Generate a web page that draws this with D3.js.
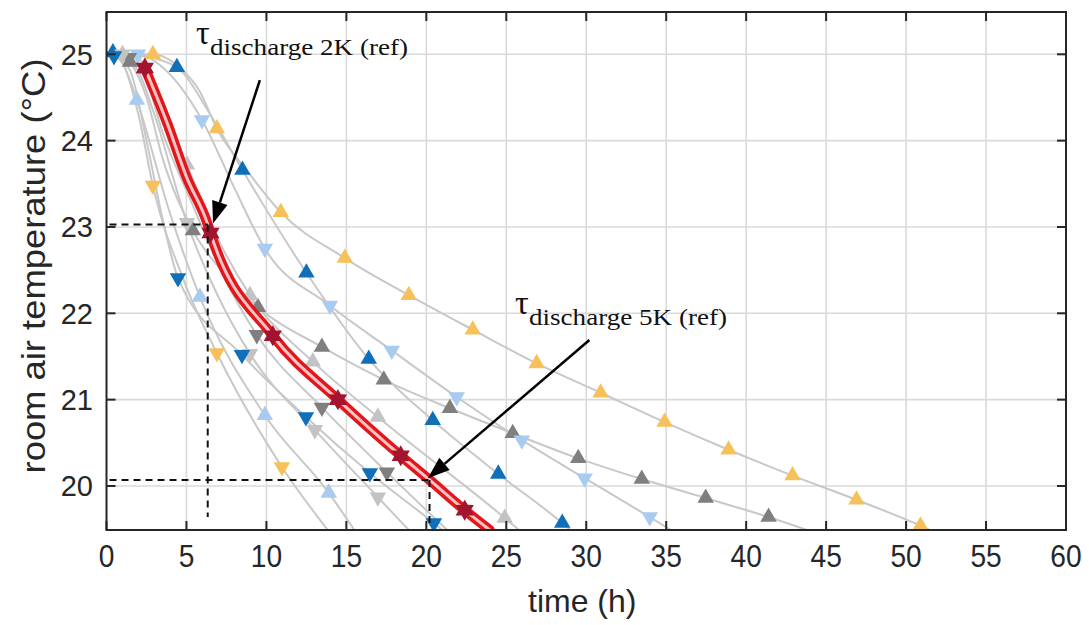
<!DOCTYPE html>
<html><head><meta charset="utf-8">
<script src="https://cdn.jsdelivr.net/npm/d3@7"></script>
<style>body{margin:0;background:#fff}svg{display:block}</style>
</head><body><svg id="c" width="1089" height="625"></svg>
<script>
// ---------- data (hours, °C) ----------
const xTicks = [0,5,10,15,20,25,30,35,40,45,50,55,60];
const yTicks = [20,21,22,23,24,25];

const yellowUpH = [0.3,2.9,4.5,5.8,6.9,9.0,10.9,14.9,18.9,22.9,26.9,30.9,34.9,38.9,42.9,46.9,50.9,51.5];
const yellowUpT = [25.0,25.0,24.86,24.58,24.14,23.6,23.17,22.64,22.21,21.81,21.42,21.08,20.74,20.42,20.12,19.84,19.54,19.49];
const yellowUpMH = [2.9,6.9,10.9,14.9,18.9,22.9,26.9,30.9,34.9,38.9,42.9,46.9,50.9];
const yellowUpMT = [25.0,24.14,23.17,22.64,22.21,21.81,21.42,21.08,20.74,20.42,20.12,19.84,19.54];

const darkGrayUpH = [0.8,1.47,2.5,3.5,5.4,7.4,9.47,13.47,17.34,21.47,25.4,29.5,33.47,37.47,41.4,43.8];
const darkGrayUpT = [25.0,24.91,24.5,23.8,22.96,22.45,22.07,21.61,21.23,20.90,20.61,20.32,20.08,19.86,19.64,19.49];
const darkGrayUpMH = [1.47,5.4,9.47,13.47,17.34,21.47,25.4,29.5,33.47,37.47,41.4];
const darkGrayUpMT = [24.91,22.96,22.07,21.61,21.23,20.90,20.61,20.32,20.08,19.86,19.64];

const lightBlueDownH = [0.5,1.97,3.5,5.97,8.0,9.9,13.97,17.84,21.9,25.97,29.9,33.97,35.3];
const lightBlueDownT = [25.0,25.0,24.85,24.24,23.45,22.75,22.09,21.57,21.03,20.53,20.09,19.64,19.49];
const lightBlueDownMH = [1.97,5.97,9.9,13.97,17.84,21.9,25.97,29.9,33.97];
const lightBlueDownMT = [25.0,24.24,22.75,22.09,21.57,21.03,20.53,20.09,19.64];

const darkBlueUpH = [0.4,2.5,4.4,6.5,8.5,12.5,16.4,20.4,24.5,28.5,29.0];
const darkBlueUpT = [25.0,24.97,24.85,24.3,23.66,22.47,21.47,20.76,20.14,19.57,19.49];
const darkBlueUpMH = [0.4,4.4,8.5,12.5,16.4,20.4,24.5,28.5];
const darkBlueUpMT = [25.02,24.85,23.66,22.47,21.47,20.76,20.14,19.57];

const lightGrayUpH = [1.0,2.0,3.0,5.03,7.0,8.97,12.9,16.97,24.9,25.8];
const lightGrayUpT = [25.0,24.95,24.6,23.72,22.85,22.21,21.44,20.80,19.63,19.49];
const lightGrayUpMH = [1.0,5.03,8.97,12.9,16.97,24.9];
const lightGrayUpMT = [25.0,23.72,22.21,21.44,20.80,19.63];

const darkGrayDownH = [1.4,2.5,3.5,5.4,7.4,9.4,13.47,17.53,21.3];
const darkGrayDownT = [25.0,24.7,24.1,23.25,22.4,21.75,20.91,20.16,19.49];
const darkGrayDownMH = [1.4,9.4,13.47,17.53];
const darkGrayDownMT = [24.96,21.75,20.91,20.16];

const lightGrayDownH = [1.0,2.0,3.0,5.03,6.97,8.97,13.03,16.97,18.9];
const lightGrayDownT = [25.0,24.8,24.3,23.05,22.2,21.53,20.65,19.87,19.49];
const lightGrayDownMH = [1.0,5.03,8.97,13.03,16.97];
const lightGrayDownMT = [25.0,23.05,21.53,20.65,19.87];

const darkBlueDownH = [0.47,1.5,2.5,3.5,4.47,8.47,12.47,16.47,20.47,21.0];
const darkBlueDownT = [25.0,24.8,24.0,23.1,22.41,21.52,20.80,20.15,19.57,19.49];
const darkBlueDownMH = [0.47,4.47,8.47,12.47,16.47,20.47];
const darkBlueDownMT = [24.98,22.41,21.52,20.80,20.15,19.57];

const lightBlueUpH = [0.5,1.0,1.9,3.9,5.84,9.9,13.9,15.5];
const lightBlueUpT = [25.0,24.9,24.47,23.2,22.19,20.82,19.92,19.49];
const lightBlueUpMH = [1.9,5.84,9.9,13.9];
const lightBlueUpMT = [24.47,22.19,20.82,19.92];

const yellowDownH = [0.3,1.0,2.0,2.9,4.9,6.9,10.97,14.0];
const yellowDownT = [25.0,24.9,24.3,23.48,22.35,21.54,20.22,19.45];
const yellowDownMH = [2.9,6.9,10.97];
const yellowDownMT = [23.48,21.54,20.22];

const refH = [2.4,3.8,5.0,6.33,6.5,10.4,14.47,18.4,20.2,22.4,23.97];
const refT = [24.84,24.2,23.58,23.03,22.93,21.74,21.0,20.35,20.07,19.72,19.49];
const refMH = [2.4,6.5,10.4,14.47,18.4,22.4];
const refMT = [24.84,22.93,21.74,21.0,20.35,19.72];

// tau markers: [hour, temperature, lowest temperature of the vertical guide]
const tau2K = [6.33, 23.03, 19.64];
const tau5K = [20.2, 20.07, 19.52];
// arrows: [fromHour, fromTemp, toHour, toTemp]
const arrow2K = [9.59, 24.70, 6.66, 23.04];
const arrow5K = [30.2, 21.69, 20.09, 20.09];
const labelSub = ["discharge 2K (ref)", "discharge 5K (ref)"];

// ---------- styles ----------
const C = {yellow:"#f6c15b", darkBlue:"#0f6fb8", lightBlue:"#a9cbef", darkGray:"#7f7f7f", lightGray:"#c3c3c3", star:"#a3142f"};
const grayCurves = [
  [yellowUpH,yellowUpT,yellowUpMH,yellowUpMT,C.yellow,"up"],
  [darkGrayUpH,darkGrayUpT,darkGrayUpMH,darkGrayUpMT,C.darkGray,"up"],
  [lightBlueDownH,lightBlueDownT,lightBlueDownMH,lightBlueDownMT,C.lightBlue,"down"],
  [darkBlueUpH,darkBlueUpT,darkBlueUpMH,darkBlueUpMT,C.darkBlue,"up"],
  [lightGrayUpH,lightGrayUpT,lightGrayUpMH,lightGrayUpMT,C.lightGray,"up"],
  [darkGrayDownH,darkGrayDownT,darkGrayDownMH,darkGrayDownMT,C.darkGray,"down"],
  [lightGrayDownH,lightGrayDownT,lightGrayDownMH,lightGrayDownMT,C.lightGray,"down"],
  [darkBlueDownH,darkBlueDownT,darkBlueDownMH,darkBlueDownMT,C.darkBlue,"down"],
  [lightBlueUpH,lightBlueUpT,lightBlueUpMH,lightBlueUpMT,C.lightBlue,"up"],
  [yellowDownH,yellowDownT,yellowDownMH,yellowDownMT,C.yellow,"down"]
];

const svg = d3.select("#c");
const L=106.5, R=1066, T=12, B=530;
const x = d3.scaleLinear().domain([0,60]).range([L,R]);
const y = d3.scaleLinear().domain([19.49,25.49]).range([B,T]);

svg.append("defs").append("clipPath").attr("id","clip")
  .append("rect").attr("x",L).attr("y",T).attr("width",R-L).attr("height",B-T);

// grid
const grid = svg.append("g");
grid.selectAll(".gx").data(xTicks.slice(1,-1)).join("line")
  .attr("x1",d=>x(d)).attr("x2",d=>x(d)).attr("y1",T).attr("y2",B)
  .attr("stroke","#dadada").attr("stroke-width",1.6);
grid.selectAll(".gy").data(yTicks).join("line")
  .attr("y1",d=>y(d)).attr("y2",d=>y(d)).attr("x1",L).attr("x2",R)
  .attr("stroke","#dadada").attr("stroke-width",1.6);

const plot = svg.append("g").attr("clip-path","url(#clip)");
const line = d3.line().x(d=>x(d[0])).y(d=>y(d[1])).curve(d3.curveMonotoneX);
const zip = (a,b)=>a.map((v,i)=>[v,b[i]]);

grayCurves.forEach(c=>{
  plot.append("path").attr("d",line(zip(c[0],c[1])))
    .attr("fill","none").attr("stroke","#c8c8c8").attr("stroke-width",2);
});

const tri = d3.symbol().type(d3.symbolTriangle).size(118)();
grayCurves.forEach(c=>{
  plot.selectAll(null).data(zip(c[2],c[3])).join("path")
    .attr("d",tri)
    .attr("transform",d=>`translate(${x(d[0])},${y(d[1])})`+(c[5]==="down"?" rotate(180)":""))
    .attr("fill",c[4]);
});

// reference curve (red double line)
const refPts = zip(refH,refT);
plot.append("path").attr("d",line(refPts)).attr("fill","none")
  .attr("stroke","#e3161b").attr("stroke-width",10).attr("stroke-linecap","round");
plot.append("path").attr("d",line(refPts)).attr("fill","none")
  .attr("stroke","#f6c4c4").attr("stroke-width",3);

// hexagram stars
function hexagram(r){
  const pts=[];
  for(let i=0;i<12;i++){
    const a=-Math.PI/2+i*Math.PI/6;
    const rr = i%2===0 ? r : r*0.58;
    pts.push([rr*Math.cos(a), rr*Math.sin(a)]);
  }
  return "M"+pts.map(p=>p.join(",")).join("L")+"Z";
}
plot.selectAll(null).data(zip(refMH,refMT)).join("path")
  .attr("d",hexagram(10.5))
  .attr("transform",d=>`translate(${x(d[0])},${y(d[1])})`)
  .attr("fill",C.star);

// dashed tau lines
const dash = svg.append("g").attr("stroke","#111").attr("stroke-width",2).attr("stroke-dasharray","7,5").attr("fill","none");
[tau2K,tau5K].forEach(t=>{
  dash.append("line").attr("x1",L+3).attr("x2",x(t[0])).attr("y1",y(t[1])).attr("y2",y(t[1]));
  dash.append("line").attr("x1",x(t[0])).attr("x2",x(t[0])).attr("y1",y(t[1])).attr("y2",y(t[2]));
});

// arrows
function arrow(a){
  const x1=x(a[0]),y1=y(a[1]),x2=x(a[2]),y2=y(a[3]);
  const ang=Math.atan2(y2-y1,x2-x1), len=22, w=8;
  const bx=x2-len*Math.cos(ang), by=y2-len*Math.sin(ang);
  svg.append("line").attr("x1",x1).attr("y1",y1).attr("x2",bx).attr("y2",by)
    .attr("stroke","#000").attr("stroke-width",2.5);
  const px=-Math.sin(ang)*w, py=Math.cos(ang)*w;
  svg.append("path").attr("d",`M${x2},${y2}L${bx+px},${by+py}L${bx-px},${by-py}Z`).attr("fill","#000");
}
arrow(arrow2K); arrow(arrow5K);

// labels
function tauLabel(px,py,sub){
  const g=svg.append("g").attr("font-family","'Liberation Serif','Times New Roman',serif").attr("fill","#111");
  g.append("text").attr("x",px).attr("y",py).attr("font-size",34).text("τ");
  g.append("text").attr("x",px+14).attr("y",py+11).attr("font-size",24)
    .attr("textLength",198).attr("lengthAdjust","spacingAndGlyphs").text(sub);
}
tauLabel(196,44,labelSub[0]);
tauLabel(515,314,labelSub[1]);

// axes box & ticks
const ax = svg.append("g").attr("stroke","#262626").attr("stroke-width",2);
ax.append("rect").attr("x",L).attr("y",T).attr("width",R-L).attr("height",B-T).attr("fill","none");
ax.selectAll(".tb").data(xTicks).join("line").attr("x1",d=>x(d)).attr("x2",d=>x(d)).attr("y1",B).attr("y2",B-9);
ax.selectAll(".tt").data(xTicks).join("line").attr("x1",d=>x(d)).attr("x2",d=>x(d)).attr("y1",T).attr("y2",T+9);
ax.selectAll(".tl").data(yTicks).join("line").attr("y1",d=>y(d)).attr("y2",d=>y(d)).attr("x1",L).attr("x2",L+9);
ax.selectAll(".tr").data(yTicks).join("line").attr("y1",d=>y(d)).attr("y2",d=>y(d)).attr("x1",R).attr("x2",R-9);

const lab = svg.append("g").attr("font-family","'Liberation Sans',Arial,sans-serif").attr("fill","#262626");
lab.selectAll(".xl").data(xTicks).join("text")
  .attr("transform",d=>`translate(${x(d)},567) scale(0.88,1)`)
  .attr("text-anchor","middle").attr("font-size",32).text(d=>d);
lab.selectAll(".yl").data(yTicks).join("text").attr("x",93).attr("y",d=>y(d)+10.5)
  .attr("text-anchor","end").attr("font-size",29).text(d=>d);
lab.append("text").attr("x",(L+R)/2-4).attr("y",612).attr("text-anchor","middle").attr("font-size",32).text("time (h)");
lab.append("text").attr("transform","translate(45,266) rotate(-90)").attr("text-anchor","middle")
  .attr("font-size",33).attr("textLength",415).attr("lengthAdjust","spacingAndGlyphs")
  .text("room air temperature (°C)");
</script></body></html>
